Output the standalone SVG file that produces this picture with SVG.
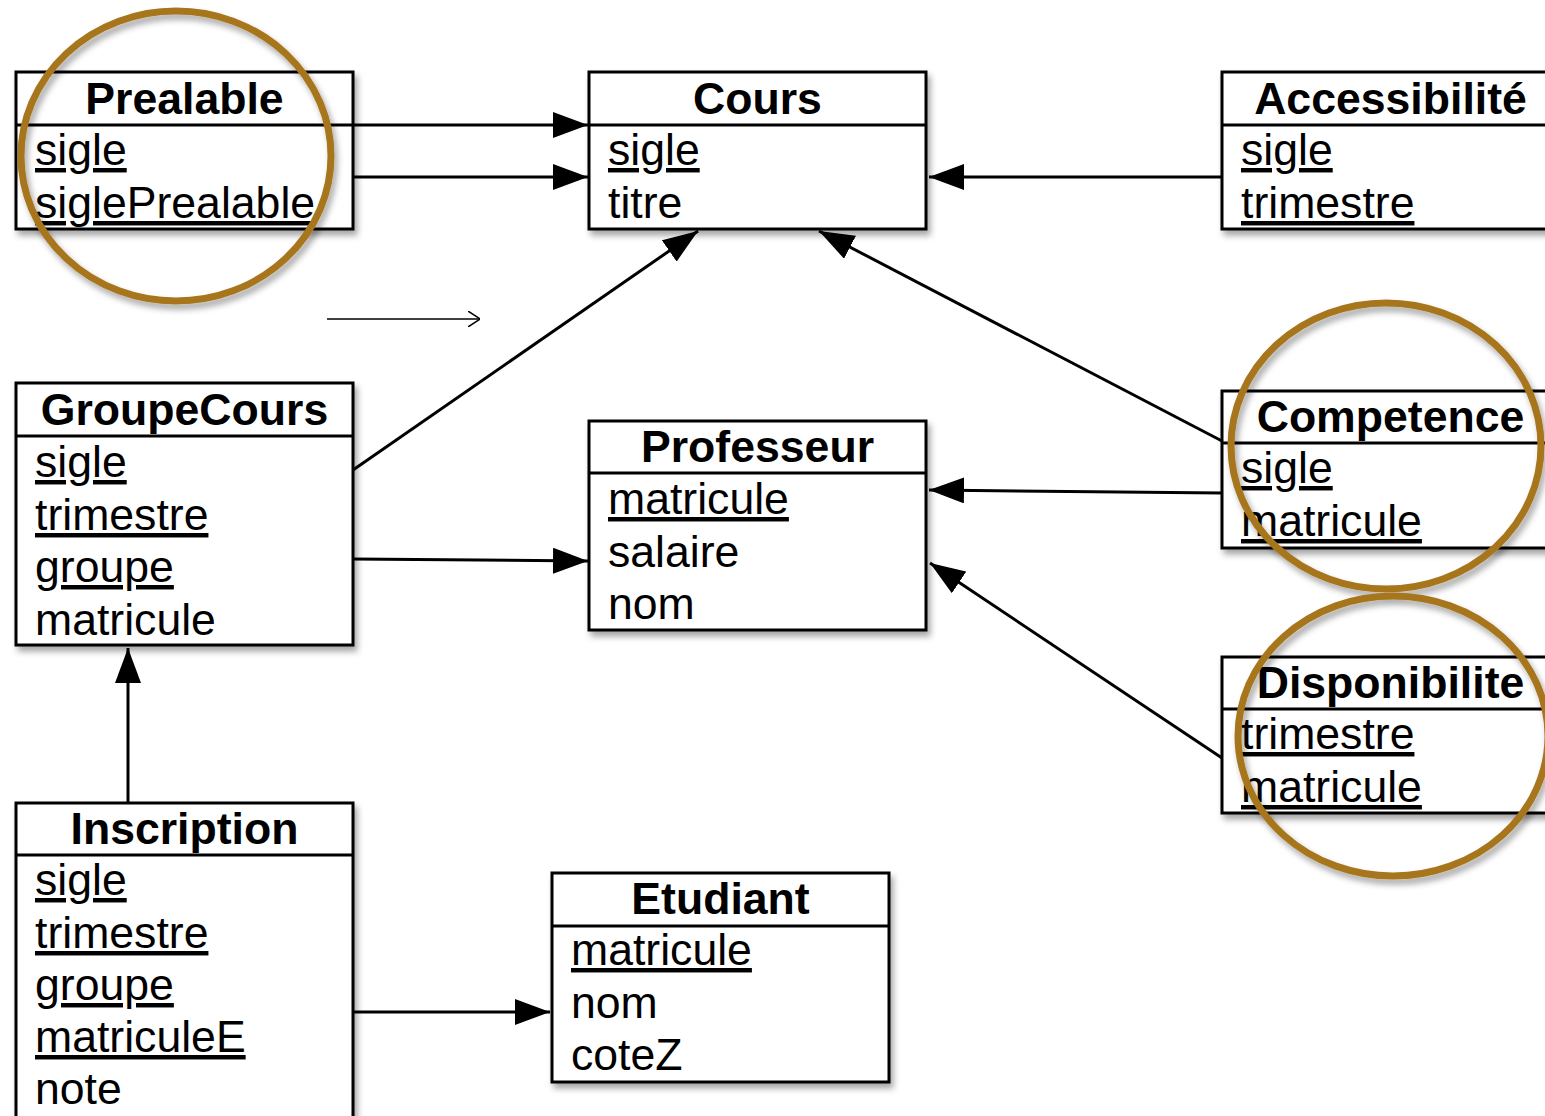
<svg xmlns="http://www.w3.org/2000/svg" width="1545" height="1116" viewBox="0 0 1545 1116">
<defs>
<filter id="sh" x="-10%" y="-10%" width="130%" height="130%">
<feDropShadow dx="3" dy="5" stdDeviation="3" flood-color="#000" flood-opacity="0.35"/>
</filter>
<marker id="tri" viewBox="0 0 35 26" refX="35" refY="13" markerWidth="35" markerHeight="26" orient="auto" markerUnits="userSpaceOnUse">
<path d="M0,0 L35,13 L0,26 Z" fill="#000"/>
</marker>
<marker id="open" viewBox="0 0 12 16" refX="12" refY="8" markerWidth="12" markerHeight="16" orient="auto" markerUnits="userSpaceOnUse">
<path d="M0,0 L12,8 L0,16" fill="none" stroke="#000" stroke-width="1.5"/>
</marker>
</defs>
<style>
.box{fill:#fff;stroke:#000;stroke-width:3;filter:url(#sh)}
.sep{stroke:#000;stroke-width:3}
.t{font-family:"Liberation Sans",Helvetica,Arial,sans-serif;font-size:44.6px;font-weight:bold;text-anchor:middle;fill:#000}
.a{font-family:"Liberation Sans",Helvetica,Arial,sans-serif;font-size:44.6px;fill:#000}
.u{text-decoration:underline}
.c{fill:none;stroke-width:3;stroke:#000}
.ring{fill:none;stroke:#A7761C;stroke-width:7;filter:url(#sh)}
</style>
<rect width="1545" height="1116" fill="#fff"/>
<g id="connectors">
<line class="c" x1="353" y1="125" x2="588" y2="125" marker-end="url(#tri)"/>
<line class="c" x1="353" y1="177" x2="588" y2="177" marker-end="url(#tri)"/>
<line class="c" x1="1222" y1="177" x2="929" y2="177" marker-end="url(#tri)"/>
<line class="c" x1="353" y1="470" x2="698" y2="231" marker-end="url(#tri)"/>
<line class="c" x1="1222" y1="441" x2="819" y2="231" marker-end="url(#tri)"/>
<line class="c" x1="353" y1="559" x2="588" y2="561" marker-end="url(#tri)"/>
<line class="c" x1="1222" y1="493" x2="929" y2="490" marker-end="url(#tri)"/>
<line class="c" x1="1222" y1="758" x2="930" y2="563" marker-end="url(#tri)"/>
<line class="c" x1="128" y1="802" x2="128" y2="648" marker-end="url(#tri)"/>
<line class="c" x1="353" y1="1012" x2="550" y2="1012" marker-end="url(#tri)"/>
<line x1="327" y1="319" x2="480" y2="319" stroke="#000" stroke-width="1.5" marker-end="url(#open)"/>
</g>
<g id="Prealable">
<rect class="box" x="16" y="72" width="337" height="157"/>
<line class="sep" x1="16" y1="125" x2="353" y2="125"/>
<text class="t" x="184.5" y="114">Prealable</text>
<text class="a u" x="35" y="165">sigle</text>
<text class="a u" x="35" y="218">siglePrealable</text>
</g>
<g id="Cours">
<rect class="box" x="589" y="72" width="337" height="157"/>
<line class="sep" x1="589" y1="125" x2="926" y2="125"/>
<text class="t" x="757.5" y="114">Cours</text>
<text class="a u" x="608" y="165">sigle</text>
<text class="a" x="608" y="218">titre</text>
</g>
<g id="Accessibilite">
<rect class="box" x="1222" y="72" width="337" height="157"/>
<line class="sep" x1="1222" y1="125" x2="1559" y2="125"/>
<text class="t" x="1390.5" y="114">Accessibilité</text>
<text class="a u" x="1241" y="165">sigle</text>
<text class="a u" x="1241" y="218">trimestre</text>
</g>
<g id="GroupeCours">
<rect class="box" x="16" y="383" width="337" height="262"/>
<line class="sep" x1="16" y1="436" x2="353" y2="436"/>
<text class="t" x="184.5" y="425">GroupeCours</text>
<text class="a u" x="35" y="477">sigle</text>
<text class="a u" x="35" y="530">trimestre</text>
<text class="a u" x="35" y="582">groupe</text>
<text class="a" x="35" y="635">matricule</text>
</g>
<g id="Professeur">
<rect class="box" x="589" y="421" width="337" height="209"/>
<line class="sep" x1="589" y1="473" x2="926" y2="473"/>
<text class="t" x="757.5" y="462">Professeur</text>
<text class="a u" x="608" y="514">matricule</text>
<text class="a" x="608" y="567">salaire</text>
<text class="a" x="608" y="619">nom</text>
</g>
<g id="Competence">
<rect class="box" x="1222" y="391" width="337" height="157"/>
<line class="sep" x1="1222" y1="443" x2="1559" y2="443"/>
<text class="t" x="1390.5" y="432">Competence</text>
<text class="a u" x="1241" y="483">sigle</text>
<text class="a u" x="1241" y="536">matricule</text>
</g>
<g id="Disponibilite">
<rect class="box" x="1222" y="657" width="337" height="156"/>
<line class="sep" x1="1222" y1="709" x2="1559" y2="709"/>
<text class="t" x="1390.5" y="698">Disponibilite</text>
<text class="a u" x="1241" y="749">trimestre</text>
<text class="a u" x="1241" y="802">matricule</text>
</g>
<g id="Inscription">
<rect class="box" x="16" y="803" width="337" height="330"/>
<line class="sep" x1="16" y1="855" x2="353" y2="855"/>
<text class="t" x="184.5" y="844">Inscription</text>
<text class="a u" x="35" y="895">sigle</text>
<text class="a u" x="35" y="948">trimestre</text>
<text class="a u" x="35" y="1000">groupe</text>
<text class="a u" x="35" y="1052">matriculeE</text>
<text class="a" x="35" y="1104">note</text>
</g>
<g id="Etudiant">
<rect class="box" x="552" y="873" width="337" height="209"/>
<line class="sep" x1="552" y1="926" x2="889" y2="926"/>
<text class="t" x="720.5" y="914">Etudiant</text>
<text class="a u" x="571" y="965">matricule</text>
<text class="a" x="571" y="1018">nom</text>
<text class="a" x="571" y="1070">coteZ</text>
</g>
<g id="highlights">
<ellipse class="ring" cx="176" cy="156" rx="155" ry="145"/>
<ellipse class="ring" cx="1386" cy="446" rx="155" ry="143"/>
<ellipse class="ring" cx="1393" cy="736" rx="155" ry="140"/>
</g>
</svg>
